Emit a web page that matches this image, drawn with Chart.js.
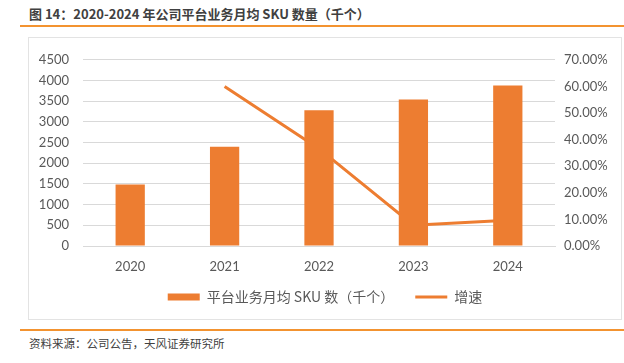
<!DOCTYPE html>
<html>
<head>
<meta charset="utf-8">
<script src="https://cdn.jsdelivr.net/npm/chart.js@4"></script>
<style>
  body { margin: 0; width: 624px; height: 363px; background: #fff; position: relative; overflow: hidden;
         font-family: "Noto Sans CJK SC", "Noto Sans", sans-serif; }
  #title { position: absolute; left: 29px; top: 5px; font-size: 13px; font-weight: bold; color: #404040; line-height: 18px; }
  #topLine { position: absolute; left: 20px; right: 0; top: 25px; height: 2px; background: #f39330; }
  #box { position: absolute; left: 28px; top: 37px; width: 592px; height: 281px; border: 1px solid #e3e3e3; }
  #bottomLine { position: absolute; left: 20px; right: 0; top: 329px; height: 2px; background: #f39330; }
  #source { position: absolute; left: 29px; top: 335px; font-size: 11.5px; color: #404040; line-height: 16px; }
</style>
</head>
<body>
<div id="title">图 14：2020-2024 年公司平台业务月均 SKU 数量（千个）</div>
<div id="topLine"></div>
<div id="box"><canvas id="grafico" width="592" height="281"></canvas></div>
<div id="bottomLine"></div>
<div id="source">资料来源：公司公告，天风证券研究所</div>
<script>
const anos = ["2020", "2021", "2022", "2023", "2024"];
const skuMensal = [1485, 2400, 3280, 3540, 3880];
const crescimento = [null, 60.0, 36.6, 7.8, 9.7];
const ticksEsquerda = [0, 500, 1000, 1500, 2000, 2500, 3000, 3500, 4000, 4500];
const ticksDireita = [0, 10, 20, 30, 40, 50, 60, 70];

const laranja = "#ed7d31";
const corTexto = "#595959";
const fonteNum = { family: "Lato, 'Open Sans', sans-serif", size: 13 };

const ctx = document.getElementById("grafico").getContext("2d");

new Chart(ctx, {
  type: "bar",
  data: {
    labels: anos,
    datasets: [
      {
        type: "line",
        label: "增速",
        data: crescimento,
        yAxisID: "y1",
        borderColor: laranja,
        backgroundColor: laranja,
        borderWidth: 3,
        pointRadius: 0,
        tension: 0,
        order: 2
      },
      {
        label: "平台业务月均 SKU 数（千个）",
        data: skuMensal,
        yAxisID: "y",
        backgroundColor: laranja,
        categoryPercentage: 1,
        barPercentage: 0.31,
        order: 1
      }
    ]
  },
  options: {
    responsive: false,
    animation: false,
    layout: { padding: { top: 11, bottom: 5, left: 0, right: 0 } },
    scales: {
      x: {
        grid: { display: false, drawTicks: false },
        border: { color: "#d9d9d9" },
        ticks: { color: corTexto, font: fonteNum, padding: 13 },
        afterFit: s => { s.height = 30; }
      },
      y: {
        position: "left",
        min: 0,
        max: 4500,
        afterBuildTicks: s => { s.ticks = ticksEsquerda.map(v => ({ value: v })); },
        grid: { color: "#d9d9d9", drawTicks: false },
        border: { display: false },
        ticks: { color: corTexto, font: fonteNum, padding: 14, callback: v => String(v) },
        afterFit: s => { s.width = 54; }
      },
      y1: {
        position: "right",
        min: 0,
        max: 70,
        afterBuildTicks: s => { s.ticks = ticksDireita.map(v => ({ value: v })); },
        grid: { display: false, drawTicks: false },
        border: { display: false },
        ticks: { color: corTexto, font: fonteNum, padding: 9, callback: v => v.toFixed(2) + "%" },
        afterFit: s => { s.width = 66; }
      }
    },
    plugins: {
      tooltip: { enabled: false },
      legend: {
        position: "bottom",
        reverse: true,
        labels: {
          color: corTexto,
          font: { family: "'Noto Sans CJK SC', sans-serif", size: 14 },
          usePointStyle: true,
          pointStyleWidth: 32,
          boxHeight: 7,
          padding: 14,
          generateLabels: chart => chart.data.datasets.map((ds, i) => ({
            text: ds.type === "line" ? ds.label : ds.label + "\u3000",
            datasetIndex: i,
            fillStyle: laranja,
            strokeStyle: laranja,
            lineWidth: ds.type === "line" ? 3 : 0,
            pointStyle: ds.type === "line" ? "line" : "rect",
            fontColor: corTexto,
            hidden: false
          }))
        }
      }
    }
  }
});
</script>
</body>
</html>
